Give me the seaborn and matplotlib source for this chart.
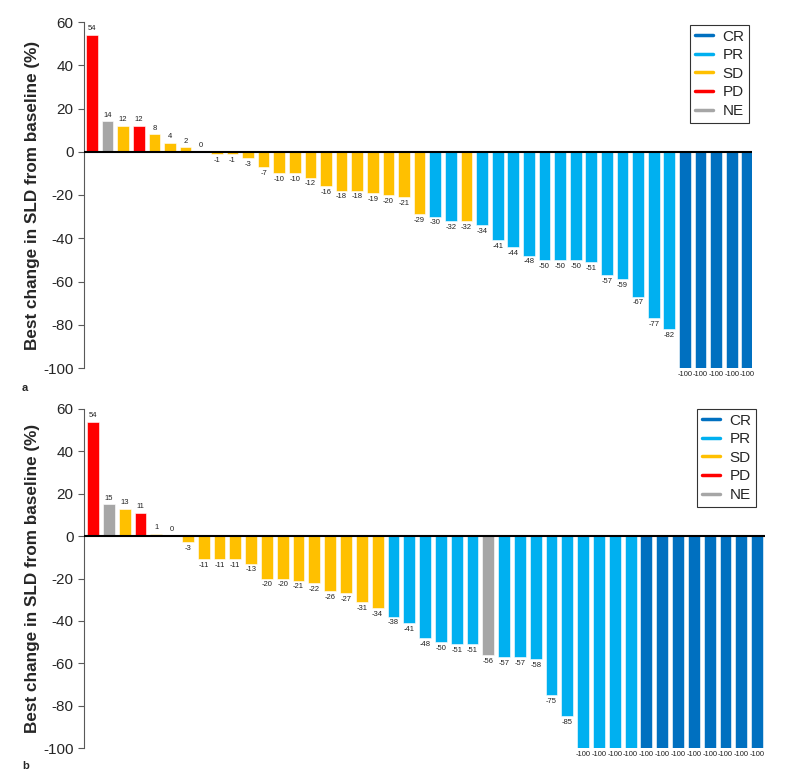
import pandas as pd
import numpy as np
import matplotlib
matplotlib.use("Agg")
import matplotlib.pyplot as plt
import seaborn as sns
from matplotlib.lines import Line2D

# Panel a data
values_a = [54, 14, 12, 12, 8, 4, 2, 0, -1, -1, -3, -7, -10, -10, -12, -16, -18, -18,
            -19, -20, -21, -29, -30, -32, -32, -34, -41, -44, -48, -50, -50, -50, -51,
            -57, -59, -67, -77, -82, -100, -100, -100, -100, -100]
resp_a = (["PD", "NE", "SD", "PD"] + ["SD"] * 18 + ["PR", "PR", "SD"] + ["PR"] * 13
          + ["CR"] * 5)

# Panel b data
values_b = [54, 15, 13, 11, 1, 0, -3, -11, -11, -11, -13, -20, -20, -21, -22, -26, -27,
            -31, -34, -38, -41, -48, -50, -51, -51, -56, -57, -57, -58, -75, -85,
            -100, -100, -100, -100, -100, -100, -100, -100, -100, -100, -100, -100]
resp_b = (["PD", "NE", "SD", "PD", "SD", "SD"] + ["SD"] * 13 + ["PR"] * 6 + ["NE"]
          + ["PR"] * 5 + ["PR"] * 4 + ["CR"] * 8)

categories = ["CR", "PR", "SD", "PD", "NE"]
colors = {"CR": "#0070C0", "PR": "#00B0F0", "SD": "#FFC000", "PD": "#FF0000", "NE": "#A6A6A6"}
yticks = [60, 40, 20, 0, -20, -40, -60, -80, -100]

sns.set_style("white")
plt.rcParams["font.family"] = ["Liberation Sans", "DejaVu Sans"]
plt.rcParams["axes.unicode_minus"] = False

fig = plt.figure(figsize=(7.85, 7.78), dpi=100)
ax_a = fig.add_axes([84 / 785, 410 / 778, 668 / 785, 346 / 778])
ax_b = fig.add_axes([84 / 785, 30 / 778, 681 / 785, 339 / 778])


def waterfall(ax, values, resp, xlim, legend_anchor, letter, letter_y):
    df = pd.DataFrame({"pos": np.arange(len(values)), "value": values, "response": resp})
    sns.barplot(data=df, x="pos", y="value", hue="response", palette=colors,
                dodge=False, width=0.75, saturation=1, legend=False, ax=ax,
                edgecolor="white", linewidth=0.4)
    for cont in ax.containers:
        ax.bar_label(cont, fmt="%d", padding=2, fontsize=5.5, color="#222222")
    ax.axhline(0, color="black", lw=1.5, zorder=3)
    ax.set_xlim(*xlim)
    ax.set_ylim(-100, 60)
    ax.set_yticks(yticks)
    ax.set_xticks([])
    ax.set_xlabel("")
    ax.set_ylabel("Best change in SLD from baseline (%)", fontsize=12.3,
                  fontweight="bold", labelpad=2)
    for s in ["top", "right", "bottom"]:
        ax.spines[s].set_visible(False)
    ax.spines["left"].set_color("#595959")
    ax.tick_params(axis="y", direction="out", length=4, color="#595959",
                   labelsize=11, left=True)
    handles = [Line2D([0], [0], color=colors[c], lw=2.5) for c in categories]
    leg = ax.legend(handles, categories, loc="upper right", bbox_to_anchor=legend_anchor,
                    bbox_transform=fig.transFigure, fontsize=11, frameon=True,
                    fancybox=False, handlelength=1.2, handletextpad=0.6,
                    borderpad=0.3, labelspacing=0.3, borderaxespad=0)
    leg.get_frame().set_edgecolor("black")
    leg.get_frame().set_linewidth(0.8)
    fig.text(22 / 785, letter_y, letter, fontsize=8, fontweight="bold")


waterfall(ax_a, values_a, resp_a, (-0.51, 42.3), (749 / 785, 1 - 25 / 778), "a", 1 - 391 / 778)
waterfall(ax_b, values_b, resp_b, (-0.57, 42.5), (756 / 785, 1 - 409 / 778), "b", 1 - 769 / 778)

fig.savefig("out.png", dpi=100)
